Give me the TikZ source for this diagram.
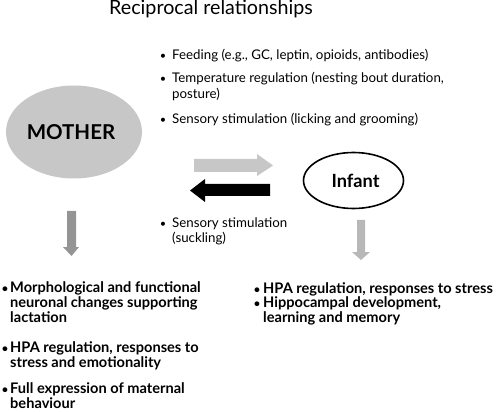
\documentclass[tikz,border=0pt]{standalone}
\usepackage{fontspec}
\setmainfont{Lato}
\usetikzlibrary{shapes.geometric}
\begin{document}
\begin{tikzpicture}[x=1pt,y=-1pt,
  lbl/.style={anchor=base west,inner sep=0pt,font=\fontsize{13.3}{15}\selectfont},
  blbl/.style={anchor=base west,inner sep=0pt,font=\fontsize{14.6}{16}\selectfont\bfseries},
  bul/.style={anchor=base,inner sep=0pt,font=\fontsize{11}{12}\selectfont},
  bbul/.style={anchor=base,inner sep=0pt,font=\fontsize{11}{12}\selectfont\bfseries}]
\useasboundingbox (0,0) rectangle (499,412);
% title
\node[anchor=base west,inner sep=0pt,font=\fontsize{19.7}{22}\selectfont] (title) at (109,15) {Reciprocal relationships};
% top list
\node[bul] (b1) at (163,60) {\textbullet};
\node[lbl] (t1) at (172,60) {Feeding (e.g., GC, leptin, opioids, antibodies)};
\node[bul] (b2) at (163,83) {\textbullet};
\node[lbl] (t2a) at (172,83) {Temperature regulation (nesting bout duration,};
\node[lbl] (t2b) at (172,99) {posture)};
\node[bul] (b3) at (163,124) {\textbullet};
\node[lbl] (t3) at (172,124) {Sensory stimulation (licking and grooming)};
% mother
\node[ellipse,fill=black!22,minimum width=136pt,minimum height=93pt,inner sep=0pt] (mother) at (74,132) {};
\node[inner sep=0pt,font=\fontsize{20.5}{22}\selectfont\bfseries] (mtxt) at (71,132) {MOTHER};
% infant
\node[ellipse,draw=black,line width=1.6pt,fill=white,minimum width=100pt,minimum height=56pt,inner sep=0pt] (infant) at (353.5,180.5) {};
\node[inner sep=0pt,font=\fontsize{18.2}{20}\selectfont\bfseries] (itxt) at (355.5,181) {Infant};
% horizontal arrows
\fill[black!22] (194,159) -- (257,159) -- (257,154) -- (273,165.5) -- (257,176) -- (257,172) -- (194,172) -- cycle;
\fill[black] (270,184) -- (205,184) -- (205,179) -- (190,190.5) -- (205,202) -- (205,196) -- (270,196) -- cycle;
% suckling
\node[bul] (b4) at (163,227) {\textbullet};
\node[lbl] (t4a) at (172,227) {Sensory stimulation};
\node[lbl] (t4b) at (172,243) {(suckling)};
% down arrows
\fill[black!42] (67,211) -- (76,211) -- (76,247) -- (79,247) -- (71.5,256) -- (63,247) -- (67,247) -- cycle;
\fill[black!28] (357,220) -- (365,220) -- (365,252) -- (370,252) -- (361,260) -- (352,252) -- (357,252) -- cycle;
% bottom left
\node[bbul] (b5) at (5,292) {\textbullet};
\node[blbl] (t5a) at (10,292) {Morphological and functional};
\node[blbl] (t5b) at (10,307) {neuronal changes supporting};
\node[blbl] (t5c) at (10,323) {lactation};
\node[bbul] (b6) at (5,352) {\textbullet};
\node[blbl] (t6a) at (10,352) {HPA regulation, responses to};
\node[blbl] (t6b) at (10,367) {stress and emotionality};
\node[bbul] (b7) at (5,393) {\textbullet};
\node[blbl] (t7a) at (10,393) {Full expression of maternal};
\node[blbl] (t7b) at (10,408) {behaviour};
% bottom right
\node[bbul] (b8) at (257,293) {\textbullet};
\node[blbl] (t8) at (263,293) {HPA regulation, responses to stress};
\node[bbul] (b9) at (257,307) {\textbullet};
\node[blbl] (t9a) at (263,307) {Hippocampal development,};
\node[blbl] (t9b) at (263,323) {learning and memory};
\end{tikzpicture}
\end{document}
